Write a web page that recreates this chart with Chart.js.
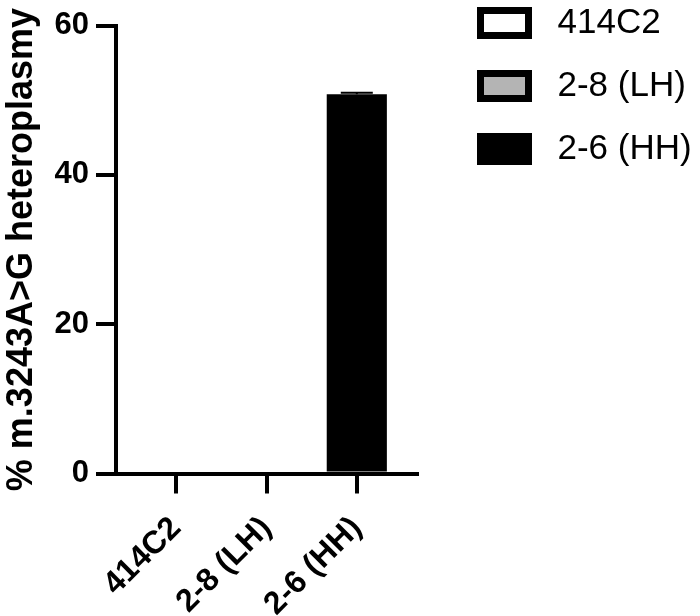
<!DOCTYPE html>
<html>
<head>
<meta charset="utf-8">
<script src="https://cdn.jsdelivr.net/npm/chart.js@4"></script>
<style>
  body { margin: 0; background: #fff; }
  canvas { display: block; }
</style>
</head>
<body>
<canvas id="graph" width="700" height="616"></canvas>
<script>
const categories = ["414C2", "2-8 (LH)", "2-6 (HH)"];
const means = [0, 0, 50.8];
const errors = [0, 0, 0.2];
const fills = ["#ffffff", "#b4b4b4", "#000000"];
const yTicks = [0, 20, 40, 60];

const font = "'Liberation Sans', Arial, sans-serif";

// legend swatch: filled box with a thick black outline
function swatch(fill) {
  const c = document.createElement("canvas");
  c.width = 55;
  c.height = 32;
  const g = c.getContext("2d");
  g.fillStyle = "#000";
  g.fillRect(0, 0, 55, 32);
  g.fillStyle = fill;
  g.fillRect(7, 7, 41, 18);
  return c;
}

// error caps, drawn through the scales
const errorBars = {
  id: "errorBars",
  afterDatasetsDraw(chart) {
    const { ctx, scales: { x, y } } = chart;
    ctx.save();
    ctx.strokeStyle = "#000";
    ctx.lineWidth = 2;
    means.forEach((m, i) => {
      if (!errors[i]) return;
      const px = x.getPixelForValue(i);
      const top = y.getPixelForValue(m + errors[i]);
      ctx.beginPath();
      ctx.moveTo(px, y.getPixelForValue(m));
      ctx.lineTo(px, top);
      ctx.moveTo(px - 16, top);
      ctx.lineTo(px + 16, top);
      ctx.stroke();
    });
    ctx.restore();
  },
};

// keep a gap between plot and legend, like the original figure
const legendSpot = {
  id: "legendSpot",
  afterInit(chart) {
    const legend = chart.legend;
    const fit = legend.fit;
    legend.fit = function () {
      fit.call(this);
      this.width = 283;
    };
  },
  afterLayout(chart) {
    chart.legend.left = 441;
    chart.legend.top = -22.5;
  },
};

let datasets = [];
categories.forEach((name, i) => {
  datasets.push({
    label: name,
    data: [{ x: i, y: means[i] }],
    backgroundColor: fills[i],
    borderWidth: 0,
    grouped: false,
    barPercentage: 0.74,
    categoryPercentage: 0.9,
  });
});

const graph = new Chart(document.getElementById("graph").getContext("2d"), {
  type: "bar",
  data: { datasets: datasets },
  options: {
    responsive: false,
    animation: false,
    layout: { padding: { top: 21, left: 0, right: 0, bottom: 0 } },
    plugins: {
      tooltip: { enabled: false },
      legend: {
        position: "right",
        align: "start",
        labels: {
          color: "#000",
          usePointStyle: true,
          pointStyleWidth: 71,
          boxHeight: 35,
          padding: 28,
          font: { family: font, size: 35 },
          generateLabels: (chart) =>
            chart.data.datasets.map((ds, i) => ({
              text: ds.label,
              pointStyle: swatch(ds.backgroundColor),
              fillStyle: ds.backgroundColor,
              strokeStyle: "#000",
              lineWidth: 0,
              hidden: false,
              datasetIndex: i,
              fontColor: "#000",
            })),
        },
      },
    },
    scales: {
      x: {
        type: "linear",
        min: -2 / 3,
        max: 8 / 3,
        offset: false,
        afterBuildTicks: (scale) => {
          scale.ticks = categories.map((c, i) => ({ value: i }));
        },
        afterFit: (scale) => {
          scale.height = 142.5;
        },
        grid: {
          offset: false,
          drawOnChartArea: false,
          color: "#000",
          lineWidth: 4,
          tickLength: 20,
        },
        border: { color: "#000", width: 4 },
        ticks: {
          autoSkip: false,
          minRotation: 45,
          maxRotation: 45,
          padding: 16,
          color: "#000",
          font: { family: font, size: 32, weight: "bold" },
          callback: (v) => categories[v],
        },
      },
      y: {
        min: 0,
        max: 60,
        afterBuildTicks: (scale) => {
          scale.ticks = yTicks.map((v) => ({ value: v }));
        },
        afterFit: (scale) => {
          scale.width = 116;
        },
        grid: {
          drawOnChartArea: false,
          color: "#000",
          lineWidth: 4,
          tickLength: 20,
        },
        border: { color: "#000", width: 4 },
        ticks: {
          padding: 7,
          color: "#000",
          font: { family: font, size: 31, weight: "bold" },
        },
        title: {
          display: true,
          text: "% m.3243A>G heteroplasmy",
          color: "#000",
          padding: 0,
          font: { family: font, size: 36, weight: "bold", lineHeight: 1.2 },
        },
      },
    },
  },
  plugins: [errorBars, legendSpot],
});
</script>
</body>
</html>
